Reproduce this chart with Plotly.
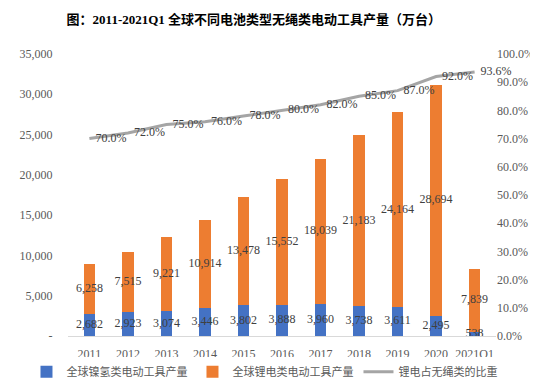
import plotly.graph_objects as go

categories = ["2011", "2012", "2013", "2014", "2015", "2016", "2017", "2018", "2019", "2020", "2021Q1"]
nimh_values = [2682, 2923, 3074, 3446, 3802, 3888, 3960, 3738, 3611, 2495, 538]
li_values = [6258, 7515, 9221, 10914, 13478, 15552, 18039, 21183, 24164, 28694, 7839]
li_share = [0.70, 0.72, 0.75, 0.76, 0.78, 0.80, 0.82, 0.85, 0.87, 0.92, 0.936]
left_tickvals = [0, 5000, 10000, 15000, 20000, 25000, 30000, 35000]
left_ticktext = ["-", "5,000", "10,000", "15,000", "20,000", "25,000", "30,000", "35,000"]
series_names = ["全球镍氢类电动工具产量", "全球锂电类电动工具产量", "锂电占无绳类的比重"]
title_text = "图：2011-2021Q1 全球不同电池类型无绳类电动工具产量（万台）"

BLUE = "#4472C4"
ORANGE = "#ED7D31"
GRAY = "#A5A5A5"
TXT = "#595959"
LBL = "#404040"
SERIF = "Liberation Serif, Noto Sans CJK SC"
CJK = "Noto Sans CJK SC, Liberation Serif"

fig = go.Figure()
fig.add_trace(go.Bar(x=categories, y=nimh_values, name=series_names[0],
                     marker=dict(color=BLUE, line=dict(width=0)), width=0.3))
fig.add_trace(go.Bar(x=categories, y=li_values, name=series_names[1],
                     marker=dict(color=ORANGE, line=dict(width=0)), width=0.3))
fig.add_trace(go.Scatter(x=categories, y=li_share, name=series_names[2], yaxis="y2",
                         mode="lines+text", line=dict(color=GRAY, width=3),
                         text=[f"  {v*100:.1f}%" for v in li_share],
                         textposition="middle right", cliponaxis=False,
                         textfont=dict(family=SERIF, size=12, color=LBL)))

# bar value labels centred in each segment
fig.add_trace(go.Scatter(x=categories, y=[v / 2 for v in nimh_values], mode="text",
                         text=[f"{v:,}" for v in nimh_values], showlegend=False, cliponaxis=False,
                         textfont=dict(family=SERIF, size=12, color=LBL), hoverinfo="skip"))
fig.add_trace(go.Scatter(x=categories, y=[a + b / 2 for a, b in zip(nimh_values, li_values)],
                         mode="text", text=[f"{v:,}" for v in li_values], showlegend=False,
                         cliponaxis=False,
                         textfont=dict(family=SERIF, size=12, color=LBL), hoverinfo="skip"))

fig.update_layout(
    width=538, height=390,
    barmode="stack",
    paper_bgcolor="white", plot_bgcolor="white",
    margin=dict(l=56, r=50, t=46, b=52),
    title=dict(text=title_text, x=0.457, xanchor="center", y=0.97, yanchor="middle",
               xref="container", yref="container",
               font=dict(family=SERIF, size=13, color="#000000", weight="bold")),
    xaxis=dict(type="category", showgrid=False, showline=True, linecolor="#D9D9D9",
               linewidth=1, ticks="outside", ticklen=7, tickcolor="rgba(0,0,0,0)",
               tickfont=dict(family=SERIF, size=12, color=TXT)),
    yaxis=dict(range=[0, 35000], tickvals=left_tickvals, ticktext=left_ticktext,
               showgrid=False, zeroline=False, showline=False,
               ticks="outside", ticklen=12, tickcolor="rgba(0,0,0,0)",
               tickfont=dict(family=SERIF, size=12, color=TXT)),
    yaxis2=dict(range=[0, 1], overlaying="y", side="right", tickformat=".1%", dtick=0.1,
                showgrid=False, zeroline=False, showline=False, ticks="",
                tickfont=dict(family=SERIF, size=12, color=TXT)),
    legend=dict(orientation="h", x=-0.097, xanchor="left", y=-0.127, yanchor="middle",
                xref="paper", yref="paper",
                font=dict(family=CJK, size=11, color=TXT), itemwidth=30,
                tracegroupgap=0, traceorder="normal"),
    showlegend=True,
)

fig.write_html("out.html")
